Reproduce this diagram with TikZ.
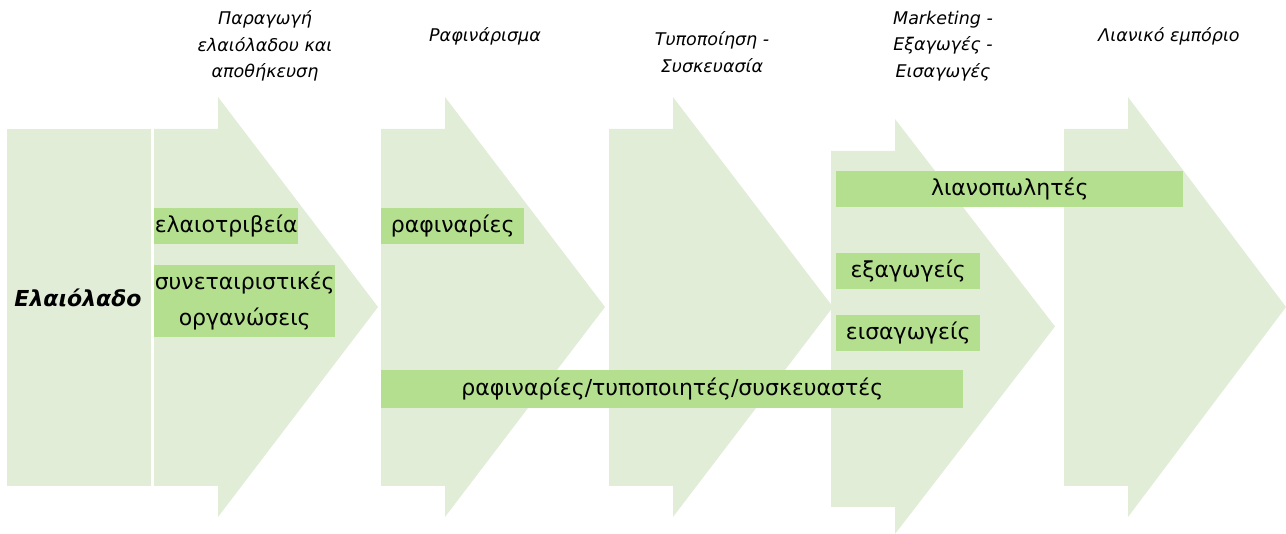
\documentclass[tikz,border=0pt]{standalone}
\usepackage{fontspec}
\setmainfont{DejaVu Sans}
\definecolor{lightg}{HTML}{E1EDD6}
\definecolor{boxg}{HTML}{B3DF8E}
\tikzset{
  shapefill/.style={fill=lightg, draw=none},
  greenbox/.style={fill=boxg, draw=none, inner sep=0pt, anchor=north west,
    font=\fontsize{22}{36}\selectfont, align=center},
  stagetitle/.style={font=\fontsize{17.5}{26.5}\selectfont\itshape, align=center, inner sep=0pt}
}
\begin{document}
\begin{tikzpicture}[x=1pt,y=-1pt]
\useasboundingbox (0,0) rectangle (1286,534);
% left block
\fill[shapefill] (7,129) rectangle (151,486);
% arrows
\fill[shapefill] (154,129) -- (218,129) -- (218,97) -- (378,307) -- (218,517) -- (218,486) -- (154,486) -- cycle;
\fill[shapefill] (381,129) -- (445,129) -- (445,97) -- (605,307) -- (445,517) -- (445,486) -- (381,486) -- cycle;
\fill[shapefill] (609,129) -- (673,129) -- (673,97) -- (833,307) -- (673,517) -- (673,486) -- (609,486) -- cycle;
\fill[shapefill] (831,151) -- (895,151) -- (895,119) -- (1055,326.5) -- (895,534) -- (895,507) -- (831,507) -- cycle;
\fill[shapefill] (1064,129) -- (1128,129) -- (1128,97) -- (1286,307) -- (1128,517) -- (1128,486) -- (1064,486) -- cycle;
% left label
\node[font=\fontsize{22}{26}\selectfont\bfseries\itshape, inner sep=0pt] (olive) at (78,298) {Ελαιόλαδο};
% stage titles
\node[stagetitle] (t1) at (265,46) {Παραγωγή\\ελαιόλαδου και\\αποθήκευση};
\node[stagetitle] (t2) at (485,36) {Ραφινάρισμα};
\node[stagetitle] (t3) at (712,52) {Τυποποίηση -\\Συσκευασία};
\node[stagetitle] (t4) at (943,46) {Marketing -\\Εξαγωγές -\\Εισαγωγές};
\node[stagetitle] (t5) at (1169,36) {Λιανικό εμπόριο};
% green boxes
\node[greenbox, minimum width=144, minimum height=36] (b1) at (154,208) {ελαιοτριβεία};
\node[greenbox, minimum width=181, minimum height=72] (b2) at (154,265) {συνεταιριστικές\\οργανώσεις};
\node[greenbox, minimum width=143, minimum height=36] (b3) at (381,208) {ραφιναρίες};
\node[greenbox, minimum width=582, minimum height=38] (b4) at (381,370) {ραφιναρίες/τυποποιητές/συσκευαστές};
\node[greenbox, minimum width=347, minimum height=36] (b5) at (836,171) {λιανοπωλητές};
\node[greenbox, minimum width=144, minimum height=36] (b6) at (836,253) {εξαγωγείς};
\node[greenbox, minimum width=144, minimum height=36] (b7) at (836,315) {εισαγωγείς};
\end{tikzpicture}
\end{document}
